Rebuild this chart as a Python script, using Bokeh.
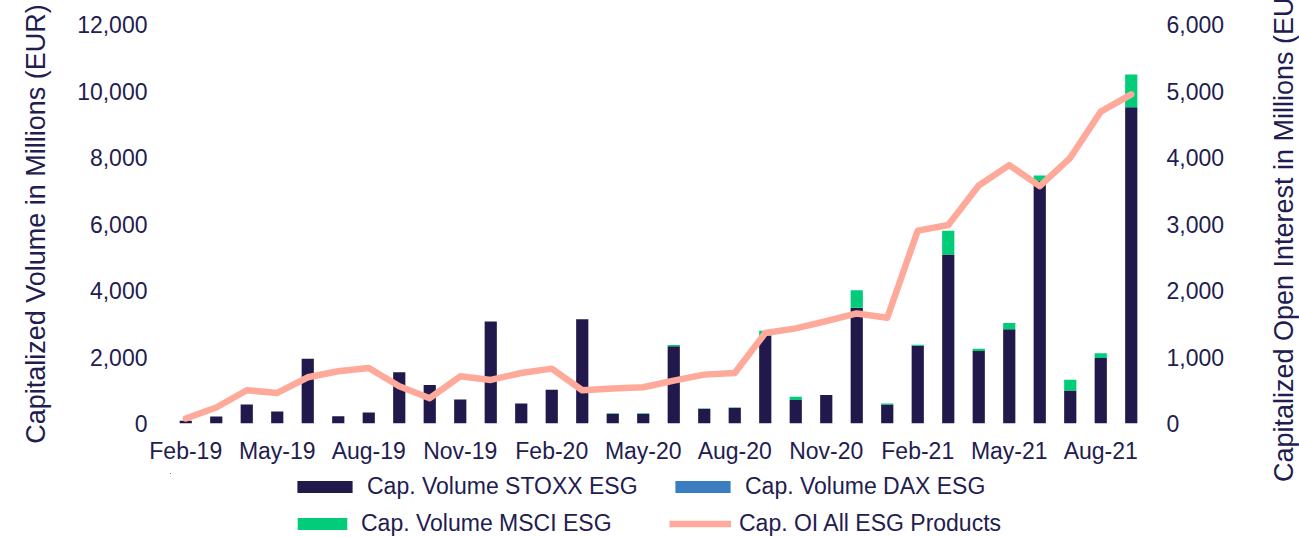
from bokeh.plotting import figure
from bokeh.layouts import row, column
from bokeh.models import (Range1d, LinearAxis, FixedTicker, NumeralTickFormatter,
                          Legend, LegendItem, ColumnDataSource)
from bokeh.embed import file_html
from bokeh.resources import INLINE

months = ["Feb-19", "Mar-19", "Apr-19", "May-19", "Jun-19", "Jul-19", "Aug-19", "Sep-19",
          "Oct-19", "Nov-19", "Dec-19", "Jan-20", "Feb-20", "Mar-20", "Apr-20", "May-20",
          "Jun-20", "Jul-20", "Aug-20", "Sep-20", "Oct-20", "Nov-20", "Dec-20", "Jan-21",
          "Feb-21", "Mar-21", "Apr-21", "May-21", "Jun-21", "Jul-21", "Aug-21", "Sep-21"]
vol_stoxx = [80, 210, 575, 360, 1950, 220, 330, 1545, 1155, 725, 3065, 605, 1015, 3135, 290, 290,
             2320, 440, 475, 2650, 705, 855, 3480, 575, 2340, 5085, 2180, 2835, 7295, 995, 1970, 9515]
vol_dax = [0, 0, 0, 0, 0, 0, 0, 0, 0, 0, 0, 0, 0, 0, 0, 0,
           0, 0, 0, 0, 0, 0, 0, 0, 0, 0, 0, 0, 0, 0, 0, 0]
vol_msci = [0, 0, 0, 0, 0, 0, 0, 0, 0, 0, 0, 0, 0, 0, 20, 20,
            40, 10, 5, 140, 100, 0, 530, 30, 30, 715, 70, 190, 165, 320, 140, 985]
oi_all = [75, 240, 500, 460, 695, 785, 835, 560, 380, 710, 655, 760, 825, 500, 525, 545,
          645, 735, 760, 1360, 1430, 1540, 1655, 1590, 2900, 2985, 3580, 3885, 3570, 3995, 4690, 4950]
left_ticks = [0, 2000, 4000, 6000, 8000, 10000, 12000]
right_ticks = [0, 1000, 2000, 3000, 4000, 5000, 6000]
series_labels = ["Cap. Volume STOXX ESG", "Cap. Volume DAX ESG", "Cap. Volume MSCI ESG",
                 "Cap. OI All ESG Products"]
left_title = "Capitalized Volume in Millions (EUR)"
right_title = "Capitalized Open Interest in Millions (EUR)"

NAVY = "#21194C"
BLUE = "#3A7DC0"
GREEN = "#00CC7A"
SALMON = "#FFA99B"
TXT = "#221C50"
FONT = "Liberation Sans"

n = len(months)
src = ColumnDataSource(dict(x=list(range(n)), stoxx=vol_stoxx, dax=vol_dax, msci=vol_msci, oi=oi_all))

def style_axis(ax):
    ax.axis_line_color = None
    ax.major_tick_line_color = None
    ax.minor_tick_line_color = None
    ax.major_tick_out = 0
    ax.major_tick_in = 0
    ax.minor_tick_out = 0
    ax.major_label_text_font = FONT
    ax.major_label_text_font_size = "23px"
    ax.major_label_text_color = TXT
    ax.axis_label_text_font = FONT
    ax.axis_label_text_font_size = "27px"
    ax.axis_label_text_font_style = "normal"
    ax.axis_label_text_color = TXT

# ---- main chart ----
p = figure(width=1263, height=466, output_backend="svg", toolbar_location=None,
           x_range=Range1d(-0.5, n - 0.5), y_range=Range1d(left_ticks[0], left_ticks[-1]),
           min_border_left=170, min_border_right=111, min_border_top=24, min_border_bottom=40)
p.outline_line_color = None
p.grid.visible = False
p.extra_y_ranges = {"oi": Range1d(right_ticks[0], right_ticks[-1])}

p.vbar_stack(["stoxx", "dax", "msci"], x="x", width=0.4, color=[NAVY, BLUE, GREEN],
             line_color=None, source=src)
p.line("x", "oi", source=src, y_range_name="oi", line_width=6.5, color=SALMON,
       line_join="round", line_cap="round")

xa = p.xaxis[0]
style_axis(xa)
xa.ticker = FixedTicker(ticks=list(range(0, n, 3)))
xa.major_label_overrides = {i: months[i] for i in range(0, n, 3)}
xa.major_label_standoff = 14

ya = p.yaxis[0]
style_axis(ya)
ya.ticker = FixedTicker(ticks=left_ticks)
ya.formatter = NumeralTickFormatter(format="0,0")
ya.major_label_standoff = 23
ya.axis_label = left_title
ya.axis_label_standoff = 23

ra = LinearAxis(y_range_name="oi", ticker=FixedTicker(ticks=right_ticks),
                formatter=NumeralTickFormatter(format="0,0"))
style_axis(ra)
ra.major_label_standoff = 20
p.add_layout(ra, "right")

# ---- legend strip: same series, ranges chosen so no mark falls inside its frame ----
lg = figure(width=1263, height=71, output_backend="svg", toolbar_location=None,
            x_range=Range1d(1e6, 2e6), y_range=Range1d(-2e6, -1e6),
            x_axis_type=None, y_axis_type=None,
            min_border_left=170, min_border_right=117, min_border_top=7, min_border_bottom=0)
lg.outline_line_color = None
lbars = lg.vbar_stack(["stoxx", "dax", "msci"], x="x", width=0.4, color=[NAVY, BLUE, GREEN],
                      line_color=None, source=src)
lline = lg.line("x", "oi", source=src, line_width=6.5, color=SALMON)

common = dict(orientation="horizontal",
              label_text_font=FONT, label_text_font_size="23px", label_text_color=TXT,
              glyph_height=15, label_standoff=8, padding=0, margin=0,
              border_line_color=None, background_fill_alpha=0)
legend1 = Legend(items=[LegendItem(label=series_labels[0], renderers=[lbars[0]]),
                        LegendItem(label=series_labels[1], renderers=[lbars[1]])],
                 location="top_center", glyph_width=69, label_width=281, spacing=20, **common)
legend2 = Legend(items=[LegendItem(label=series_labels[2], renderers=[lbars[2]]),
                        LegendItem(label=series_labels[3], renderers=[lline])],
                 location="bottom_center", glyph_width=62, label_width=286, spacing=22, **common)
lg.add_layout(legend1)
lg.add_layout(legend2)

# ---- right-hand title strip (reads bottom-to-top like the reference) ----
tf = figure(width=36, height=537, output_backend="svg", toolbar_location=None,
            x_range=Range1d(0, 1), y_range=Range1d(0, 1), x_axis_type=None,
            min_border_left=35, min_border_right=0, min_border_top=24, min_border_bottom=111)
tf.outline_line_color = None
tf.grid.visible = False
ta = tf.yaxis[0]
style_axis(ta)
ta.ticker = FixedTicker(ticks=[])
ta.major_label_standoff = 0
ta.axis_label = right_title
ta.axis_label_standoff = 0

layout = row(column(p, lg), tf)
open("out.html", "w").write(file_html(layout, INLINE))
